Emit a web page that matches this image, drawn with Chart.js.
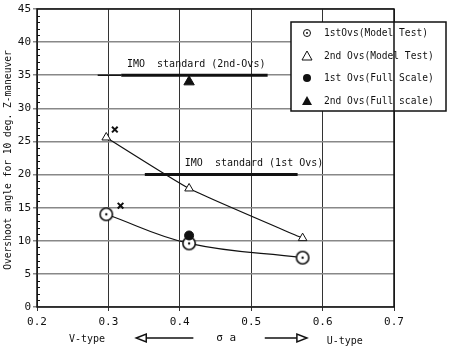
<!DOCTYPE html>
<html>
<head>
<meta charset="utf-8">
<script src="https://cdn.jsdelivr.net/npm/chart.js@4"></script>
<style>
  html, body { margin: 0; padding: 0; background: #fff; }
  #wrap { width: 450px; height: 353px; }
</style>
</head>
<body>
<div id="wrap"><canvas id="ovsChart" width="450" height="353"></canvas></div>
<script>
// sigma a values and overshoot angles
const modelX = [0.297, 0.413, 0.572];
const firstModel = [14.0, 9.6, 7.45];
const secondModel = [25.6, 17.9, 10.4];
const firstFullX = [0.413];
const firstFull = [10.8];
const secondFullX = [0.413];
const secondFull = [34.0];
const crossX = [0.309, 0.317];
const crossY = [26.8, 15.3];
const imo2ndLeadX = [0.285, 0.318];
const imo2ndX = [0.318, 0.523];
const imo2ndY = [35, 35];
const imo1stX = [0.351, 0.565];
const imo1stY = [20, 20];
const xTicks = [0.2, 0.3, 0.4, 0.5, 0.6, 0.7];
const yTicks = [0, 5, 10, 15, 20, 25, 30, 35, 40, 45];
const legendLabels = [
  "1stOvs(Model Test)",
  "2nd Ovs(Model Test)",
  "1st Ovs(Full Scale)",
  "2nd Ovs(Full scale)"
];

const FONT = "DejaVu Sans Mono";
const INK = "#111";

function pts(xs, ys) {
  return xs.map((x, i) => ({ x: x, y: ys[i] }));
}

const decorPlugin = {
  id: "decor",
  afterDraw(chart) {
    const ctx = chart.ctx;
    const xs = chart.scales.x;
    const ys = chart.scales.y;
    const area = chart.chartArea;
    ctx.save();
    ctx.fillStyle = INK;
    ctx.strokeStyle = INK;

    // minor ticks on the left axis
    ctx.lineWidth = 1;
    for (let v = ys.min + 1; v < ys.max; v++) {
      if (v % 5 === 0) continue;
      const py = Math.round(ys.getPixelForValue(v)) + 0.5;
      ctx.beginPath();
      ctx.moveTo(area.left, py);
      ctx.lineTo(area.left + 3, py);
      ctx.stroke();
    }

    // IMO labels
    ctx.font = "10px '" + FONT + "'";
    ctx.textBaseline = "middle";
    ctx.textAlign = "left";
    ctx.fillText("IMO  standard (2nd-Ovs)", xs.getPixelForValue(0.326), ys.getPixelForValue(36.7));
    ctx.fillText("IMO  standard (1st Ovs)", xs.getPixelForValue(0.407), ys.getPixelForValue(21.7));

    // y axis title
    ctx.save();
    ctx.translate(8, (area.top + area.bottom) / 2 + 2);
    ctx.rotate(-Math.PI / 2);
    ctx.textAlign = "center";
    ctx.font = "9.6px '" + FONT + "'";
    ctx.fillText("Overshoot angle for 10 deg. Z-maneuver", 0, 0);
    ctx.restore();

    // x axis title row
    const yRow = 338;
    ctx.textAlign = "center";
    ctx.font = "10px '" + FONT + "'";
    ctx.fillText("V-type", xs.getPixelForValue(0.270), yRow + 1);
    ctx.font = "11px '" + FONT + "'";
    ctx.fillText("\u03c3 a", xs.getPixelForValue(0.465), yRow);
    ctx.font = "10px '" + FONT + "'";
    ctx.fillText("U-type", xs.getPixelForValue(0.631), yRow + 3);

    ctx.lineWidth = 1.5;
    // left arrow
    let a = xs.getPixelForValue(0.339), b = xs.getPixelForValue(0.419);
    ctx.beginPath();
    ctx.moveTo(a + 10, yRow);
    ctx.lineTo(b, yRow);
    ctx.stroke();
    ctx.beginPath();
    ctx.moveTo(a, yRow);
    ctx.lineTo(a + 10, yRow - 4);
    ctx.lineTo(a + 10, yRow + 4);
    ctx.closePath();
    ctx.fillStyle = "#fff";
    ctx.fill();
    ctx.stroke();
    // right arrow
    a = xs.getPixelForValue(0.519);
    b = xs.getPixelForValue(0.578);
    ctx.beginPath();
    ctx.moveTo(a, yRow);
    ctx.lineTo(b - 10, yRow);
    ctx.stroke();
    ctx.beginPath();
    ctx.moveTo(b, yRow);
    ctx.lineTo(b - 10, yRow - 4);
    ctx.lineTo(b - 10, yRow + 4);
    ctx.closePath();
    ctx.fill();
    ctx.stroke();

    // legend box
    const lx = 291, ly = 22, lw = 155, lh = 89;
    ctx.fillStyle = "#fff";
    ctx.fillRect(lx, ly, lw, lh);
    ctx.lineWidth = 1.5;
    ctx.strokeRect(lx, ly, lw, lh);
    const rowY = [33, 56, 78, 101];
    const mx = 307;
    ctx.fillStyle = INK;
    ctx.lineWidth = 1;
    // dotted circle
    ctx.beginPath();
    ctx.arc(mx, rowY[0], 3.5, 0, Math.PI * 2);
    ctx.stroke();
    ctx.beginPath();
    ctx.arc(mx, rowY[0], 1, 0, Math.PI * 2);
    ctx.fill();
    // open triangle
    ctx.beginPath();
    ctx.moveTo(mx, rowY[1] - 5);
    ctx.lineTo(mx - 5, rowY[1] + 4);
    ctx.lineTo(mx + 5, rowY[1] + 4);
    ctx.closePath();
    ctx.stroke();
    // filled circle
    ctx.beginPath();
    ctx.arc(mx, rowY[2], 4, 0, Math.PI * 2);
    ctx.fill();
    // filled triangle
    ctx.beginPath();
    ctx.moveTo(mx, rowY[3] - 5);
    ctx.lineTo(mx - 5, rowY[3] + 4);
    ctx.lineTo(mx + 5, rowY[3] + 4);
    ctx.closePath();
    ctx.fill();

    ctx.font = "9.6px '" + FONT + "'";
    ctx.textAlign = "left";
    legendLabels.forEach((t, i) => ctx.fillText(t, 324, rowY[i]));

    // plot frame
    ctx.lineWidth = 1.5;
    ctx.strokeRect(area.left, area.top, area.right - area.left, area.bottom - area.top);
    ctx.restore();
  }
};

// dotted circle marker for the model test 1st overshoot
function dotCircle() {
  const c = document.createElement("canvas");
  c.width = 16;
  c.height = 16;
  const g = c.getContext("2d");
  g.fillStyle = "#fff";
  g.strokeStyle = INK;
  g.lineWidth = 1.6;
  g.beginPath();
  g.arc(8, 8, 6.2, 0, Math.PI * 2);
  g.fill();
  g.stroke();
  g.fillStyle = INK;
  g.beginPath();
  g.arc(8, 8, 1.2, 0, Math.PI * 2);
  g.fill();
  return c;
}

const ctx = document.getElementById("ovsChart").getContext("2d");
new Chart(ctx, {
  type: "scatter",
  data: {
    datasets: [
      {
        label: "IMO 2nd lead",
        data: pts(imo2ndLeadX, imo2ndY),
        showLine: true,
        borderColor: INK,
        borderWidth: 1.5,
        pointRadius: 0
      },
      {
        label: "IMO 2nd",
        data: pts(imo2ndX, imo2ndY),
        showLine: true,
        borderColor: INK,
        borderWidth: 3,
        pointRadius: 0
      },
      {
        label: "IMO 1st",
        data: pts(imo1stX, imo1stY),
        showLine: true,
        borderColor: INK,
        borderWidth: 3,
        pointRadius: 0
      },
      {
        label: legendLabels[1],
        data: pts(modelX, secondModel),
        showLine: true,
        tension: 0.15,
        borderColor: INK,
        borderWidth: 1.2,
        pointStyle: "triangle",
        pointRadius: 5,
        pointBackgroundColor: "#fff",
        pointBorderColor: INK,
        pointBorderWidth: 1
      },
      {
        label: legendLabels[2],
        data: pts(firstFullX, firstFull),
        pointStyle: "circle",
        pointRadius: 4.5,
        pointBackgroundColor: INK,
        pointBorderColor: INK
      },
      {
        label: legendLabels[0],
        data: pts(modelX, firstModel),
        showLine: true,
        tension: 0.4,
        borderColor: INK,
        borderWidth: 1.2,
        pointStyle: dotCircle(),
        pointRadius: 7
      },
      {
        label: legendLabels[3],
        data: pts(secondFullX, secondFull),
        pointStyle: "triangle",
        pointRadius: 6,
        pointBackgroundColor: INK,
        pointBorderColor: INK
      },
      {
        label: "cross",
        data: pts(crossX, crossY),
        pointStyle: "crossRot",
        pointRadius: 4,
        pointBorderColor: INK,
        pointBorderWidth: 2
      }
    ]
  },
  options: {
    responsive: false,
    animation: false,
    layout: { padding: { top: 9, right: 56, left: 0, bottom: 0 } },
    plugins: {
      legend: { display: false },
      tooltip: { enabled: false }
    },
    scales: {
      x: {
        type: "linear",
        min: xTicks[0],
        max: xTicks[xTicks.length - 1],
        afterBuildTicks: s => { s.ticks = xTicks.map(v => ({ value: v })); },
        afterFit: s => { s.height = 46; },
        grid: { color: "#333", lineWidth: 1, drawTicks: true, tickLength: 4 },
        border: { display: false },
        ticks: {
          color: INK,
          font: { family: FONT, size: 11 },
          padding: 5,
          callback: v => v.toFixed(1)
        }
      },
      y: {
        min: yTicks[0],
        max: yTicks[yTicks.length - 1],
        afterBuildTicks: s => { s.ticks = yTicks.map(v => ({ value: v })); },
        afterFit: s => { s.width = 37; },
        grid: { color: "#888", lineWidth: 1.5, tickLength: 4 },
        border: { display: false },
        ticks: {
          color: INK,
          font: { family: FONT, size: 11 },
          padding: 2
        }
      }
    }
  },
  plugins: [decorPlugin]
});
</script>
</body>
</html>
